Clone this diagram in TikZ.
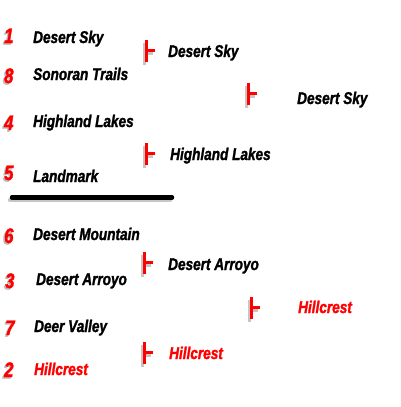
\documentclass[tikz,border=0pt]{standalone}
\usepackage{fontspec}
\setmainfont[FakeStretch=0.8, BoldItalicFeatures={FakeBold=1.5}]{Liberation Sans}
\begin{document}
\begin{tikzpicture}[x=1pt,y=-1pt,
  team/.style={anchor=base west, inner sep=0pt, font=\bfseries\itshape\fontsize{17}{17}\selectfont},
  win/.style={team, text=red},
  seed/.style={anchor=base west, inner sep=0pt, text=red, font=\bfseries\itshape\fontsize{21}{21}\selectfont},
  seedsh/.style={seed, text=gray!55},
  brk/.pic={
    \fill[gray!45] (-2,3) rectangle ++(2.5,22);
    \fill[gray!45] (0.5,12) rectangle ++(7.5,3);
    \fill[red] (0,0) rectangle ++(2.5,22);
    \fill[red] (2.5,9) rectangle (10,12);
  }]
\useasboundingbox (0,0) rectangle (400,407);
% seeds
\foreach \n/\x/\y/\t in {s1/4/43/1, s8/4/83/8, s4/4/130/4, s5/4/180/5, s6/4/243/6, s3/5/288/3, s7/5/335/7, s2/4/377/2}{
  \node[seedsh] (\n sh) at (\x-1.5,\y+1.5) {\t};
  \node[seed] (\n) at (\x,\y) {\t};
}
% round 1
\node[team] (r1a) at (33,43) {Desert Sky};
\node[team] (r1b) at (33,80) {Sonoran Trails};
\node[team] (r1c) at (33,127) {Highland Lakes};
\node[team] (r1d) at (33,182) {Landmark};
\node[team] (r1e) at (33,240) {Desert Mountain};
\node[team] (r1f) at (36,285) {Desert Arroyo};
\node[team] (r1g) at (34,332) {Deer Valley};
\node[win]  (r1h) at (34,375) {Hillcrest};
% divider
\draw[gray!45, line width=4.5pt, line cap=round] (10,200) -- (170,200);
\draw[black, line width=4.5pt, line cap=round] (12,197.5) -- (172,197.5);
% round 2
\pic at (145,40) {brk};
\node[team] (r2a) at (168,57) {Desert Sky};
\pic at (145,143) {brk};
\node[team] (r2b) at (170,160) {Highland Lakes};
\pic at (143,252) {brk};
\node[team] (r2c) at (168,270) {Desert Arroyo};
\pic at (143,342) {brk};
\node[win]  (r2d) at (169,359) {Hillcrest};
% round 3
\pic at (247,83) {brk};
\node[team] (r3a) at (297,104) {Desert Sky};
\pic at (250,297) {brk};
\node[win]  (r3b) at (298,313) {Hillcrest};
\end{tikzpicture}
\end{document}
